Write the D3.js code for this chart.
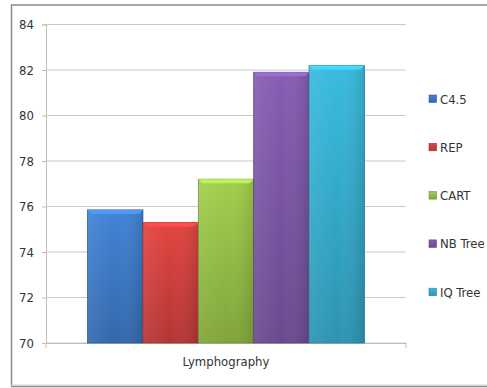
<!DOCTYPE html>
<html>
<head>
<meta charset="utf-8">
<script src="https://cdnjs.cloudflare.com/ajax/libs/d3/7.8.5/d3.min.js"></script>
<style>
  body { margin: 0; background: #fff; }
  svg { display: block; font-family: "DejaVu Sans Condensed", "DejaVu Sans", sans-serif; font-stretch: condensed; }
  .tick text { fill: #333; font-size: 13px; }
  .legend-label { fill: #333; font-size: 13px; }
</style>
</head>
<body>
<svg id="chart" width="487" height="388"></svg>
<script>
// data
const categories = ['Lymphography'];
const seriesNames = ['C4.5', 'REP', 'CART', 'NB Tree', 'IQ Tree'];
const seriesValues = [75.85, 75.3, 77.2, 81.9, 82.2];
const yTicks = [70, 72, 74, 76, 78, 80, 82, 84];
const seriesColors = ['#3d7ccc', '#d6403d', '#99c447', '#7f58aa', '#35b1d3'];

const svg = d3.select('#chart');
const DIM = { left: 46, right: 406, top: 24.5, bottom: 343 };

// outer frame
svg.append('path')
    .attr('d', `M487,5 H11.5 V386`)
    .attr('fill', 'none').attr('stroke', '#8a8a8a').attr('stroke-width', 1.5);
svg.append('line')
    .attr('x1', 11).attr('x2', 487).attr('y1', 386.5).attr('y2', 386.5)
    .attr('stroke', '#8a8a8a').attr('stroke-width', 1.5);
svg.append('line')
    .attr('x1', 11).attr('x2', 487).attr('y1', 385).attr('y2', 385)
    .attr('stroke', '#d0d0d0').attr('stroke-width', 1);

const y = d3.scaleLinear().domain([70, 84]).range([DIM.bottom, DIM.top]);
const x0 = d3.scaleBand().domain(categories).range([DIM.left, DIM.right])
    .paddingInner(0).paddingOuter(0.15);
const x1 = d3.scaleBand().domain(seriesNames).range([0, x0.bandwidth()]).padding(0);

// gridlines
svg.append('g')
    .selectAll('line')
    .data(yTicks)
    .join('line')
    .attr('x1', DIM.left).attr('x2', DIM.right)
    .attr('y1', d => y(d)).attr('y2', d => y(d))
    .attr('stroke', '#c8c8c8').attr('stroke-width', 1);

// y axis
const yAxis = svg.append('g')
    .attr('transform', `translate(${DIM.left},0)`)
    .call(d3.axisLeft(y).tickValues(yTicks).tickSize(4).tickPadding(8).tickFormat(d3.format('d')));
yAxis.select('.domain').attr('stroke', '#bdbdbd');
yAxis.selectAll('.tick line').attr('stroke', '#bdbdbd');
yAxis.selectAll('.tick text').attr('font-family', null);

// x axis
const xAxis = svg.append('g')
    .attr('transform', `translate(0,${DIM.bottom})`)
    .call(d3.axisBottom(x0).tickSize(0).tickPadding(14));
xAxis.select('.domain').attr('stroke', '#bdbdbd');
xAxis.selectAll('.tick text').attr('font-size', '13px').attr('fill', '#333');
xAxis.selectAll('.edge')
    .data([DIM.left, DIM.right])
    .join('line')
    .attr('class', 'edge')
    .attr('x1', d => d).attr('x2', d => d).attr('y1', 0).attr('y2', 5)
    .attr('stroke', '#bdbdbd');
svg.selectAll('.tick text').attr('font-family', null);
svg.selectAll('g[font-family]').attr('font-family', null);

// gradients
const defs = svg.append('defs');
seriesColors.forEach((c, i) => {
    const g = defs.append('linearGradient').attr('id', 'grad' + i)
        .attr('x1', 0).attr('y1', 0).attr('x2', 0).attr('y2', 1);
    g.append('stop').attr('offset', '0%').attr('stop-color', d3.color(c).brighter(0.15));
    g.append('stop').attr('offset', '100%').attr('stop-color', d3.color(c).darker(0.5));
    const h = defs.append('linearGradient').attr('id', 'side' + i)
        .attr('x1', 0).attr('y1', 0).attr('x2', 1).attr('y2', 0);
    h.append('stop').attr('offset', '0%').attr('stop-color', '#fff').attr('stop-opacity', 0.08);
    h.append('stop').attr('offset', '50%').attr('stop-color', '#fff').attr('stop-opacity', 0);
    h.append('stop').attr('offset', '100%').attr('stop-color', '#000').attr('stop-opacity', 0.12);
});

const bars = seriesNames.map((s, i) => ({ name: s, value: seriesValues[i], i, cat: categories[0] }));
const bx = d => x0(d.cat) + x1(d.name);
const bw = x1.bandwidth();
const bevel = 4;

const barG = svg.append('g').selectAll('g').data(bars).join('g');
barG.append('rect')
    .attr('x', d => bx(d)).attr('y', d => y(d.value))
    .attr('width', bw).attr('height', d => y(70) - y(d.value))
    .attr('fill', d => `url(#grad${d.i})`)
    .attr('stroke', d => d3.color(seriesColors[d.i]).darker(0.9))
    .attr('stroke-width', 0.8);
barG.append('rect')
    .attr('x', d => bx(d)).attr('y', d => y(d.value))
    .attr('width', bw).attr('height', d => y(70) - y(d.value))
    .attr('fill', d => `url(#side${d.i})`);
// top bevel
barG.append('path')
    .attr('d', d => {
        const x = bx(d), t = y(d.value);
        return `M${x},${t} H${x + bw} L${x + bw - bevel},${t + bevel} H${x + bevel} Z`;
    })
    .attr('fill', d => d3.color(seriesColors[d.i]).brighter(0.6));

// legend
const legend = svg.append('g').selectAll('g').data(bars).join('g')
    .attr('transform', (d, i) => `translate(429,${99 + i * 48.3})`);
legend.append('rect')
    .attr('x', 0).attr('y', -4).attr('width', 7.5).attr('height', 7.5)
    .attr('fill', d => `url(#grad${d.i})`)
    .attr('stroke', d => d3.color(seriesColors[d.i]).darker(0.8)).attr('stroke-width', 0.6);
legend.append('text')
    .attr('class', 'legend-label')
    .attr('x', 11).attr('y', 0).attr('dy', '0.35em')
    .text(d => d.name);
</script>
</body>
</html>
